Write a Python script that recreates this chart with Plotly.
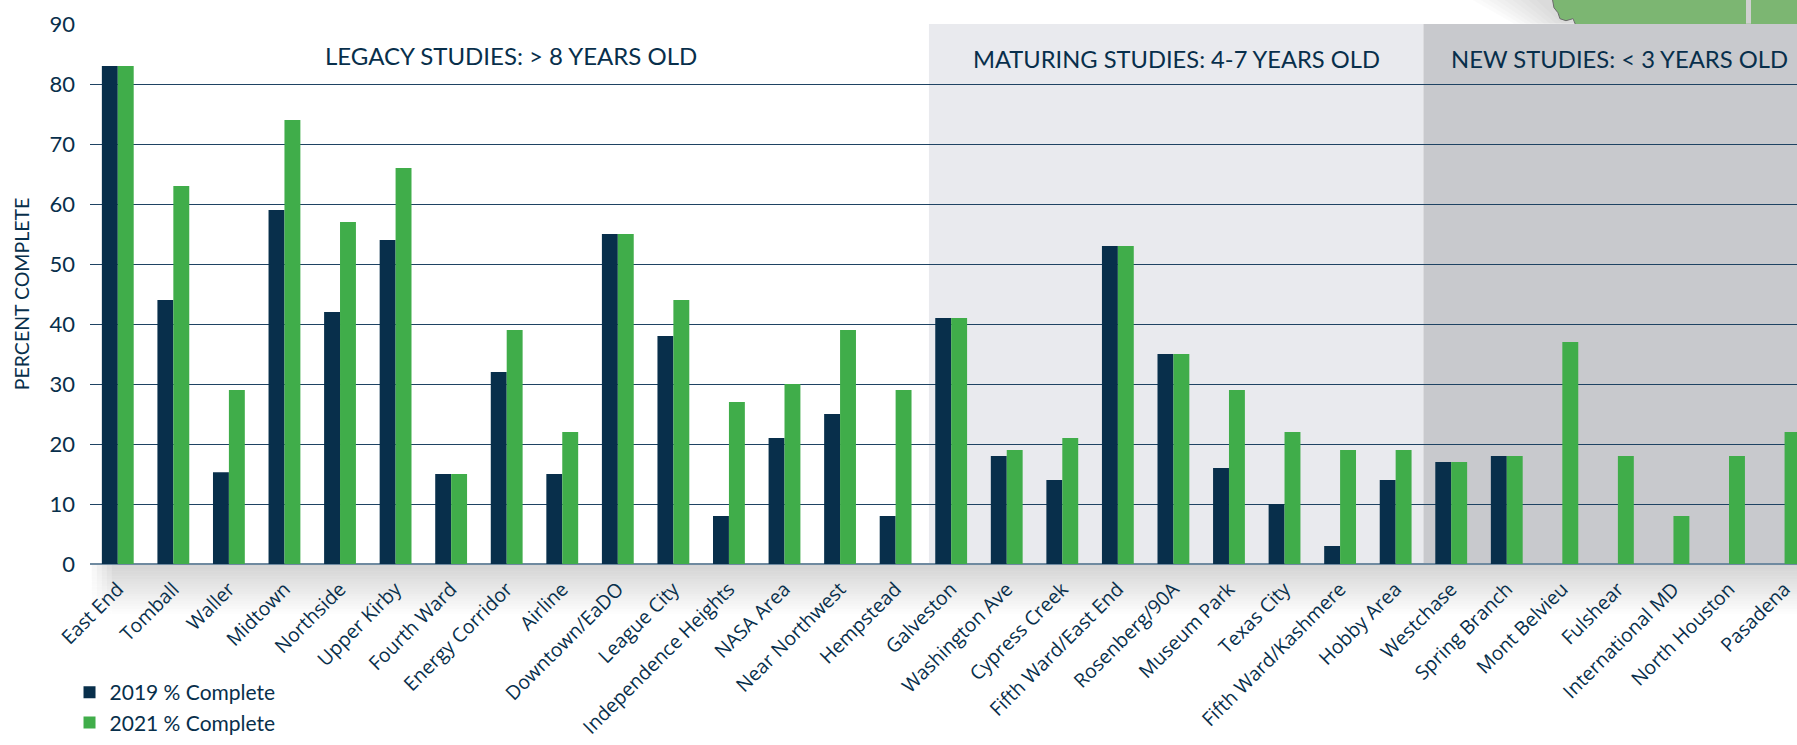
import plotly.graph_objects as go

categories = ["East End","Tomball","Waller","Midtown","Northside","Upper Kirby","Fourth Ward","Energy Corridor","Airline","Downtown/EaDO","League City","Independence Heights","NASA Area","Near Northwest","Hempstead","Galveston","Washington Ave","Cypress Creek","Fifth Ward/East End","Rosenberg/90A","Museum Park","Texas City","Fifth Ward/Kashmere","Hobby Area","Westchase","Spring Branch","Mont Belvieu","Fulshear","International MD","North Houston","Pasadena"]
pct_2019 = [83,44,15.3,59,42,54,15,32,15,55,38,8,21,25,8,41,18,14,53,35,16,10,3,14,17,18,None,None,None,None,None]
pct_2021 = [83,63,29,74,57,66,15,39,22,55,44,27,30,39,29,41,19,21,53,35,29,22,19,19,17,18,37,18,8,18,22]
y_ticks = [0,10,20,30,40,50,60,70,80,90]

W, H = 1797, 745
L, T, B = 90.3, 24.3, 564
BAND = 55.55
NAVY, GREEN = "#082f4b", "#40ad4a"
xmax = (W - L) / BAND - 0.5

def px(x):
    return (x - L) / (W - L)

def py(y):
    return (B - y) / (B - T)

def poly(points):
    return "M " + " L ".join(f"{px(a):.5f} {py(b):.5f}" for a, b in points) + " Z"

fig = go.Figure()
fig.add_bar(name="2019 % Complete", x=categories, y=pct_2019, marker=dict(color=NAVY, line_width=0))
fig.add_bar(name="2021 % Complete", x=categories, y=pct_2021, marker=dict(color=GREEN, line_width=0))

shapes = [
    dict(type="rect", xref="x", yref="y", x0=14.6, x1=23.5, y0=0, y1=90, fillcolor="#e9eaee", line_width=0, layer="below"),
    dict(type="rect", xref="x", yref="y", x0=23.5, x1=xmax, y0=0, y1=90, fillcolor="#c8c9cd", line_width=0, layer="below"),
]
# soft shadow under the axis, fading downward and toward the left edge
ROWS, STEP = 20, 2.5
for i in range(ROWS):
    a = 0.17 * (1 - i / ROWS)
    for c, f in enumerate([0.2, 0.4, 0.6, 0.8, 1.0]):
        x0 = 92 + c * 5
        x1 = x0 + 5 if c < 4 else W
        shapes.append(dict(type="rect", xref="paper", yref="paper",
                           x0=px(x0), x1=px(x1), y0=py(B + (i + 1) * STEP), y1=py(B + i * STEP),
                           fillcolor=f"rgba(0,0,0,{a * f:.4f})", line_width=0, layer="below"))
# map fragment at the top right: its shadow, the land and the road across it
for i in range(9):
    shapes.append(dict(type="path", xref="paper", yref="paper", layer="below", line_width=0,
                       path=poly([(1472 + i * 8, 0), (1556, 0), (1576, 24), (1514 + i * 6, 24)]),
                       fillcolor="rgba(0,0,0,0.017)"))
shapes.append(dict(type="path", xref="paper", yref="paper", layer="below",
                   path=poly([(1552, -3), (1554, 8), (1558, 13), (1560, 19), (1566, 21), (1573, 19), (1576, 26), (W + 3, 26), (W + 3, -3)]),
                   fillcolor="#7cb672", line=dict(color="#6b6b6b", width=1)))
shapes.append(dict(type="rect", xref="paper", yref="paper", layer="below", line_width=0,
                   x0=px(1746), x1=px(1751), y0=py(24), y1=py(-1), fillcolor="#d0d0d0"))

fig.update_layout(
    width=W, height=H, margin=dict(l=L, r=0, t=T, b=H - B),
    paper_bgcolor="white", plot_bgcolor="white",
    font=dict(family="Lato", color=NAVY),
    barmode="group", bargap=0.427, bargroupgap=0,
    shapes=shapes,
    xaxis=dict(range=[-0.5, xmax], tickangle=-45, showgrid=False, ticks="", ticklabelstandoff=9, automargin=False,
               tickfont=dict(family="Open Sans", size=19.5, color=NAVY)),
    yaxis=dict(range=[0, 90], tickvals=y_ticks, gridcolor="#1f4363", gridwidth=1, zeroline=True, automargin=False,
               zerolinecolor="#6f8aa0", zerolinewidth=2, ticks="", ticklabelstandoff=14,
               tickfont=dict(family="Lato", size=22, color=NAVY),
               title=dict(text="PERCENT COMPLETE", font=dict(family="Lato", size=19.5, color=NAVY), standoff=14)),
    legend=dict(x=-0.012, y=-0.2, xanchor="left", yanchor="top", bgcolor="rgba(0,0,0,0)",
                font=dict(family="Lato", size=21, color=NAVY), traceorder="normal", tracegroupgap=0),
    annotations=[
        dict(text="LEGACY STUDIES: > 8 YEARS OLD", xref="x", yref="y", x=7.08, y=84.7, showarrow=False, font=dict(size=24, color=NAVY)),
        dict(text="MATURING STUDIES: 4-7 YEARS OLD", xref="x", yref="y", x=19.06, y=84.2, showarrow=False, font=dict(size=23.7, color=NAVY)),
        dict(text="NEW STUDIES: < 3 YEARS OLD", xref="x", yref="y", x=27.03, y=84.2, showarrow=False, font=dict(size=23.8, color=NAVY)),
    ],
)
fig.write_html("out.html", config={"displayModeBar": False},
               post_script="document.body.style.margin='0';document.body.style.overflow='hidden';")
